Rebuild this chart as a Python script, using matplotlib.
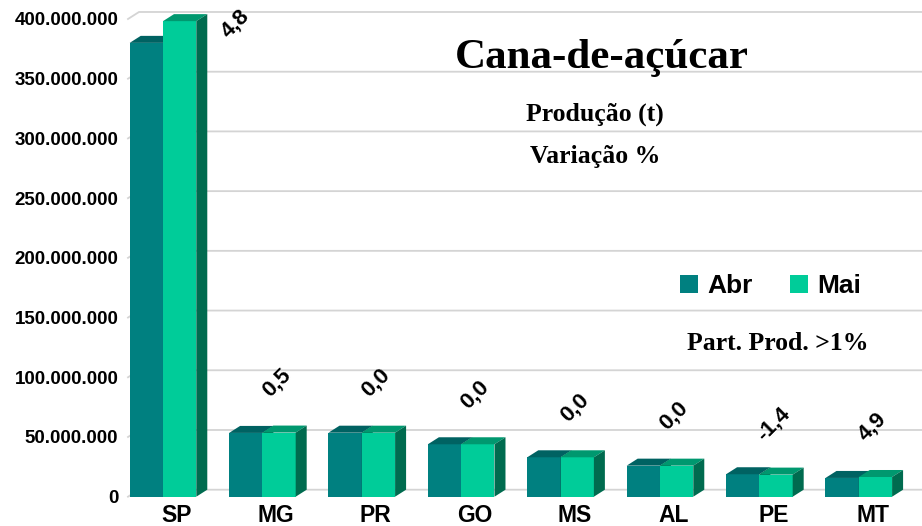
import matplotlib
matplotlib.use("Agg")
import matplotlib.pyplot as plt
from matplotlib.patches import Polygon, Patch
from matplotlib.ticker import FuncFormatter

# ---- data ----
states = ["SP", "MG", "PR", "GO", "MS", "AL", "PE", "MT"]
abr = [380.0e6, 53.4e6, 53.6e6, 43.9e6, 33.0e6, 26.0e6, 18.8e6, 15.7e6]
mai = [398.2e6, 53.7e6, 53.6e6, 43.9e6, 33.0e6, 26.0e6, 18.5e6, 16.5e6]
var_pct = [4.8, 0.5, 0.0, 0.0, 0.0, 0.0, -1.4, 4.9]
yticks = [0, 50e6, 100e6, 150e6, 200e6, 250e6, 300e6, 350e6, 400e6]
series_names = ["Abr", "Mai"]

# ---- style ----
c_abr_front, c_abr_top = "#008080", "#006262"
c_mai_front, c_mai_top = "#00CC99", "#00986F"
c_side = "#006B4F"
grid_c = "#D4D4D4"
sans = ["Liberation Sans", "DejaVu Sans"]
serif = ["Liberation Serif", "DejaVu Serif"]

W, H = 922, 526
fig = plt.figure(figsize=(W / 100, H / 100), dpi=100)
ax = fig.add_axes([128 / W, (H - 496.7) / H, 794 / W, 488.7 / H])
ax.set_xlim(-0.352, 7.636)
ax.set_ylim(0, 409.2e6)
for s in ax.spines.values():
    s.set_visible(False)

px_per_unit_x = 99.4
px_per_val = 477.7 / 400e6
dx = 11 / px_per_unit_x
dy = 7 / px_per_val
bw = 0.335

# gridlines (back wall + left wall diagonal)
x_left, x_right = ax.get_xlim()
for v in yticks:
    ax.plot([x_left, x_left + dx, x_right], [v, v + dy, v + dy],
            color=grid_c, lw=1.3, zorder=0, clip_on=False)

def bar3d(x0, h, front, top, side, z):
    ax.bar([x0], [h], width=bw, align="edge", color=front, zorder=z, linewidth=0)
    ax.add_patch(Polygon([(x0, h), (x0 + bw, h), (x0 + bw + dx, h + dy), (x0 + dx, h + dy)],
                         closed=True, facecolor=top, edgecolor="none", zorder=z, clip_on=False))
    ax.add_patch(Polygon([(x0 + bw, 0), (x0 + bw + dx, dy), (x0 + bw + dx, h + dy), (x0 + bw, h)],
                         closed=True, facecolor=side, edgecolor="none", zorder=z))

for i in range(len(states)):
    bar3d(i - bw, abr[i], c_abr_front, c_abr_top, c_side, 2 + 2 * i)
    bar3d(i, mai[i], c_mai_front, c_mai_top, c_side, 3 + 2 * i)

# variation labels
ytop = ax.get_ylim()[1]
for i, p in enumerate(var_pct):
    txt = f"{p:.1f}".replace(".", ",")
    h = max(abr[i], mai[i])
    if h + 70e6 > ytop:
        xy, off = (i + bw + dx, h + dy), (20, -7)
    else:
        xy, off = (i, h), (10, 36)
    ax.annotate(txt, xy=xy, xytext=off, textcoords="offset points",
                rotation=45, ha="center", va="center", fontsize=16,
                fontweight="bold", family=sans, zorder=30, annotation_clip=False)

# axes ticks
ax.set_yticks(yticks)
ax.yaxis.set_major_formatter(FuncFormatter(lambda v, p: f"{int(v):,}".replace(",", ".")))
ax.set_xticks([i + 0.14 for i in range(len(states))])
ax.set_xticklabels(states)
ax.tick_params(axis="both", length=0)
ax.tick_params(axis="y", pad=7)
ax.tick_params(axis="x", pad=5)
for t in ax.get_yticklabels():
    t.set_fontfamily(sans); t.set_fontweight("bold"); t.set_fontsize(13.5)
for t in ax.get_xticklabels():
    t.set_fontfamily(sans); t.set_fontweight("bold"); t.set_fontsize(16.5)

# titles / notes
fig.text(602 / W, 1 - 58 / H, "Cana-de-açúcar", ha="center", va="center",
         fontsize=31, fontweight="bold", family=serif)
fig.text(595 / W, 1 - 114 / H, "Produção (t)", ha="center", va="center",
         fontsize=18.5, fontweight="bold", family=serif)
fig.text(595 / W, 1 - 156 / H, "Variação %", ha="center", va="center",
         fontsize=18.5, fontweight="bold", family=serif)
fig.text(778 / W, 1 - 344 / H, "Part. Prod. >1%", ha="center", va="center",
         fontsize=18.5, fontweight="bold", family=serif)

# legend
handles = [Patch(facecolor=c_abr_front, edgecolor="none"),
           Patch(facecolor=c_mai_front, edgecolor="none")]
leg = fig.legend(handles, series_names, loc="center left",
                 bbox_to_anchor=(680 / W, 1 - 286 / H), bbox_transform=fig.transFigure,
                 ncol=2, frameon=False, borderpad=0, borderaxespad=0,
                 handlelength=0.68, handleheight=0.68, handletextpad=0.34,
                 columnspacing=1.44, prop={"family": sans, "weight": "bold", "size": 19})

fig.savefig("out.png", dpi=100)
